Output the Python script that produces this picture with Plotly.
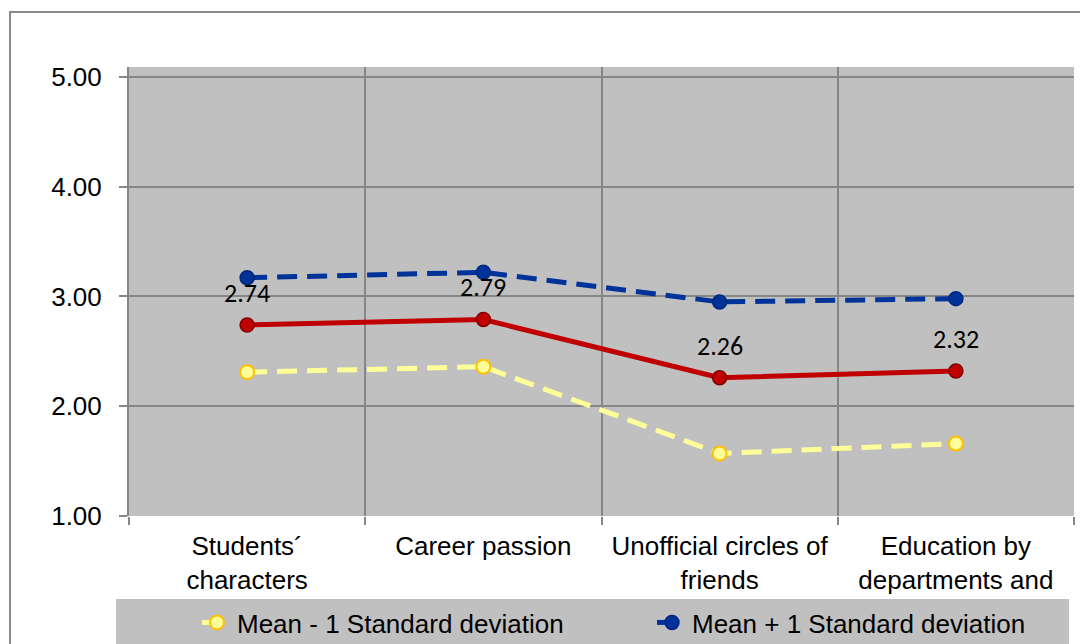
import plotly.graph_objects as go

categories = ["Students´<br>characters", "Career passion", "Unofficial circles of<br>friends",
              "Education by<br>departments and<br>institutions"]
mean_vals = [2.74, 2.79, 2.26, 2.32]
plus_sd = [3.17, 3.22, 2.95, 2.98]
minus_sd = [2.31, 2.36, 1.57, 1.66]
y_ticks = [1, 2, 3, 4, 5]
y_tick_text = ["1.00", "2.00", "3.00", "4.00", "5.00"]

fig = go.Figure()
fig.add_trace(go.Scatter(
    x=categories, y=minus_sd, mode="lines+markers", name="Mean - 1 Standard deviation",
    line=dict(color="#FFFF99", width=5, dash="20px,10px"),
    marker=dict(size=14, color="#FFFF99", line=dict(color="#FFC000", width=2)),
    legend="legend",
))
fig.add_trace(go.Scatter(
    x=categories, y=plus_sd, mode="lines+markers", name="Mean + 1 Standard deviation",
    line=dict(color="#003399", width=5, dash="20px,10px"),
    marker=dict(size=14, color="#003399", line=dict(color="#00267F", width=1.5)),
    legend="legend2",
))
fig.add_trace(go.Scatter(
    x=categories, y=mean_vals, mode="lines+markers", name="Mean", showlegend=False,
    line=dict(color="#C00000", width=5),
    marker=dict(size=14, color="#C00000", line=dict(color="#800000", width=1.5)),
))
for c, v in zip(categories, mean_vals):
    fig.add_annotation(x=c, y=v, text=f"{v:.2f}", showarrow=False, yshift=32,
                       font=dict(family="Carlito, Lato, sans-serif", size=26, color="black"))

# outer chart border
fig.add_shape(type="rect", xref="paper", yref="paper", x0=-0.1259, x1=1.05, y0=-0.4, y1=1.1225,
              line=dict(color="#898989", width=2), fillcolor="rgba(0,0,0,0)", layer="below")

legend_common = dict(orientation="h", yanchor="top", y=-0.1849, xanchor="left",
                     bgcolor="#C0C0C0", font=dict(size=26), entrywidthmode="pixels",
                     itemclick=False, borderwidth=0)

fig.update_layout(
    width=1088, height=644,
    margin=dict(l=121, r=22, t=59, b=136, autoexpand=False),
    paper_bgcolor="white", plot_bgcolor="#C0C0C0",
    font=dict(family="Liberation Sans, Arial, sans-serif", size=26, color="black"),
    showlegend=True,
    legend=dict(x=-0.01376, indentation=81, entrywidth=362, **legend_common),
    legend2=dict(x=0.4984, indentation=52, entrywidth=372, **legend_common),
    xaxis=dict(type="category", tickson="boundaries", showgrid=True, gridcolor="#868686", gridwidth=2,
               ticks="outside", ticklen=8, tickcolor="#868686", tickwidth=2, automargin=False,
               showline=False, zeroline=False, range=[-0.5, 3.5], tickangle=0, ticklabelstandoff=12),
    yaxis=dict(range=[1, 5.09], tickvals=y_ticks, ticktext=y_tick_text, showgrid=True,
               gridcolor="#868686", gridwidth=2, ticks="outside", ticklen=8, tickcolor="#868686",
               tickwidth=2, automargin=False, zeroline=False, showline=True, linecolor="#868686",
               linewidth=2, ticklabelstandoff=12),
)
fig.write_html("out.html")
